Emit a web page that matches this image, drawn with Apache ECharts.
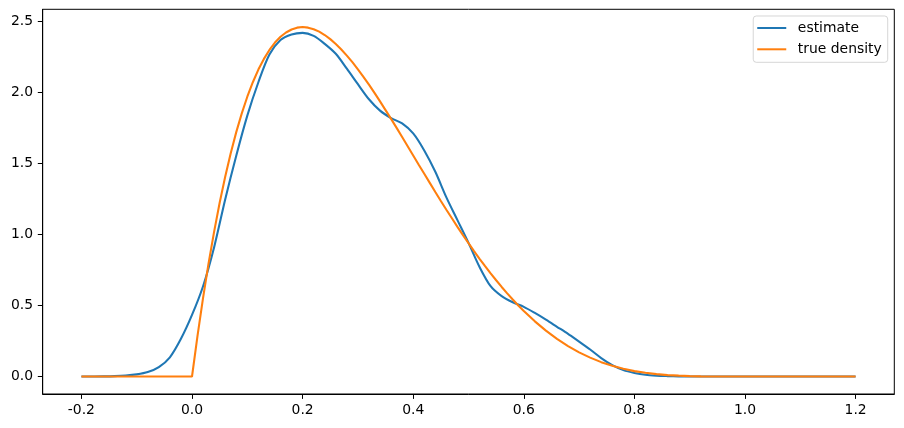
<!DOCTYPE html>
<html>
<head>
<meta charset="utf-8">
<script src="https://cdn.jsdelivr.net/npm/echarts@6/dist/echarts.min.js"></script>
<style>html,body{margin:0;padding:0;background:#fff;}#c{width:904px;height:428px;}</style>
</head>
<body>
<div id="c"></div>
<script>
const estimateX = [-0.20,-0.18,-0.16,-0.14,-0.12,-0.10,-0.08,-0.06,-0.04,-0.02,
  0.00,0.02,0.04,0.06,0.08,0.10,0.12,0.14,0.16,0.18,
  0.20,0.22,0.24,0.26,0.28,0.30,0.32,0.34,0.36,0.38,
  0.40,0.42,0.44,0.46,0.48,0.50,0.52,0.54,0.56,0.58,
  0.60,0.62,0.64,0.66,0.68,0.70,0.72,0.74,0.76,0.78,
  0.80,0.82,0.84,0.86,0.88,0.90,0.92,0.94,0.96,0.98,
  1.00,1.02,1.04,1.06,1.08,1.10,1.12,1.14,1.16,1.18,1.20];
const estimate = [0,0,0.001,0.003,0.007,0.015,0.031,0.066,0.135,0.265,
  0.433,0.635,0.91,1.245,1.553,1.835,2.07,2.265,2.367,2.406,
  2.417,2.396,2.34,2.27,2.165,2.056,1.95,1.87,1.818,1.78,
  1.71,1.59,1.44,1.26,1.10,0.94,0.77,0.635,0.565,0.522,
  0.49,0.447,0.40,0.35,0.30,0.245,0.19,0.13,0.08,0.045,
  0.025,0.012,0.006,0.003,0.001,0,0,0,0,0,
  0,0,0,0,0,0,0,0,0,0,0];
const trueX = [-0.20,0.00,0.01,0.02,0.03,0.04,0.05,0.06,0.07,0.08,0.09,
  0.10,0.11,0.12,0.13,0.14,0.15,0.16,0.17,0.18,0.19,
  0.20,0.21,0.22,0.23,0.24,0.25,0.26,0.27,0.28,0.29,
  0.30,0.31,0.32,0.33,0.34,0.35,0.36,0.37,0.38,0.39,
  0.40,0.41,0.42,0.43,0.44,0.45,0.46,0.47,0.48,0.49,
  0.50,0.51,0.52,0.53,0.54,0.55,0.56,0.57,0.58,0.59,
  0.60,0.62,0.64,0.66,0.68,0.70,0.72,0.74,0.76,0.78,
  0.80,0.82,0.84,0.86,0.88,0.90,0.92,0.94,0.96,0.98,1.00,1.20];
const trueDensity = [0,0,0.288,0.553,0.797,1.019,1.222,1.405,1.571,1.719,1.851,
  1.968,2.070,2.159,2.234,2.297,2.349,2.390,2.420,2.441,2.454,
  2.458,2.454,2.443,2.426,2.402,2.373,2.339,2.300,2.257,2.211,
  2.161,2.108,2.053,1.995,1.935,1.874,1.812,1.749,1.685,1.620,
  1.555,1.490,1.426,1.362,1.298,1.235,1.173,1.113,1.053,0.995,
  0.938,0.882,0.828,0.776,0.725,0.677,0.630,0.585,0.542,0.500,
  0.461,0.388,0.323,0.265,0.214,0.170,0.133,0.101,0.076,0.055,
  0.038,0.026,0.017,0.010,0.006,0.003,0.001,0,0,0,0,0];
const xTicks = [-0.2,0.0,0.2,0.4,0.6,0.8,1.0,1.2];
const yTicks = [0.0,0.5,1.0,1.5,2.0,2.5];
const seriesNames = ['estimate','true density'];

const font = 'DejaVu Sans';
const chart = echarts.init(document.getElementById('c'), null, {renderer:'canvas'});
chart.setOption({
  animation:false,
  backgroundColor:'#fff',
  grid:{left:42.7,right:9.7,top:9.3,bottom:34,containLabel:false,show:true,borderColor:'#000',borderWidth:1},
  legend:{
    orient:'vertical', right:16.3, top:16,
    data:seriesNames,
    icon:'rect', itemWidth:29, itemHeight:2, itemGap:7.3,
    padding:[5,6,6,4],
    borderColor:'rgba(204,204,204,0.8)', borderWidth:1, borderRadius:3,
    backgroundColor:'rgba(255,255,255,0.8)',
    textStyle:{fontFamily:font,fontSize:13.9,color:'#000',lineHeight:14,padding:[0,0,0,6.6]}
  },
  xAxis:{
    type:'value', min:-0.27, max:1.27,
    splitLine:{show:false},
    axisLine:{show:true,onZero:false,lineStyle:{color:'#000',width:1}},
    axisTick:{show:true,length:4.9,lineStyle:{color:'#000',width:1},customValues:xTicks},
    axisLabel:{fontFamily:font,fontSize:13.9,color:'#000',margin:9.7,customValues:xTicks,
      formatter:v=>v.toFixed(1)}
  },
  yAxis:{
    type:'value', min:-0.123, max:2.583,
    splitLine:{show:false},
    axisLine:{show:true,onZero:false,lineStyle:{color:'#000',width:1}},
    axisTick:{show:true,length:4.9,lineStyle:{color:'#000',width:1},customValues:yTicks},
    axisLabel:{fontFamily:font,fontSize:13.9,color:'#000',margin:9.7,customValues:yTicks,
      formatter:v=>v.toFixed(1)}
  },
  series:[
    {name:seriesNames[0],type:'line',data:estimateX.map((x,i)=>[x,estimate[i]]),showSymbol:false,symbol:'none',
     smooth:0.3,lineStyle:{color:'#1f77b4',width:2.08},itemStyle:{color:'#1f77b4'}},
    {name:seriesNames[1],type:'line',data:trueX.map((x,i)=>[x,trueDensity[i]]),showSymbol:false,symbol:'none',
     lineStyle:{color:'#ff7f0e',width:2.08},itemStyle:{color:'#ff7f0e'}}
  ]
});
</script>
</body>
</html>
